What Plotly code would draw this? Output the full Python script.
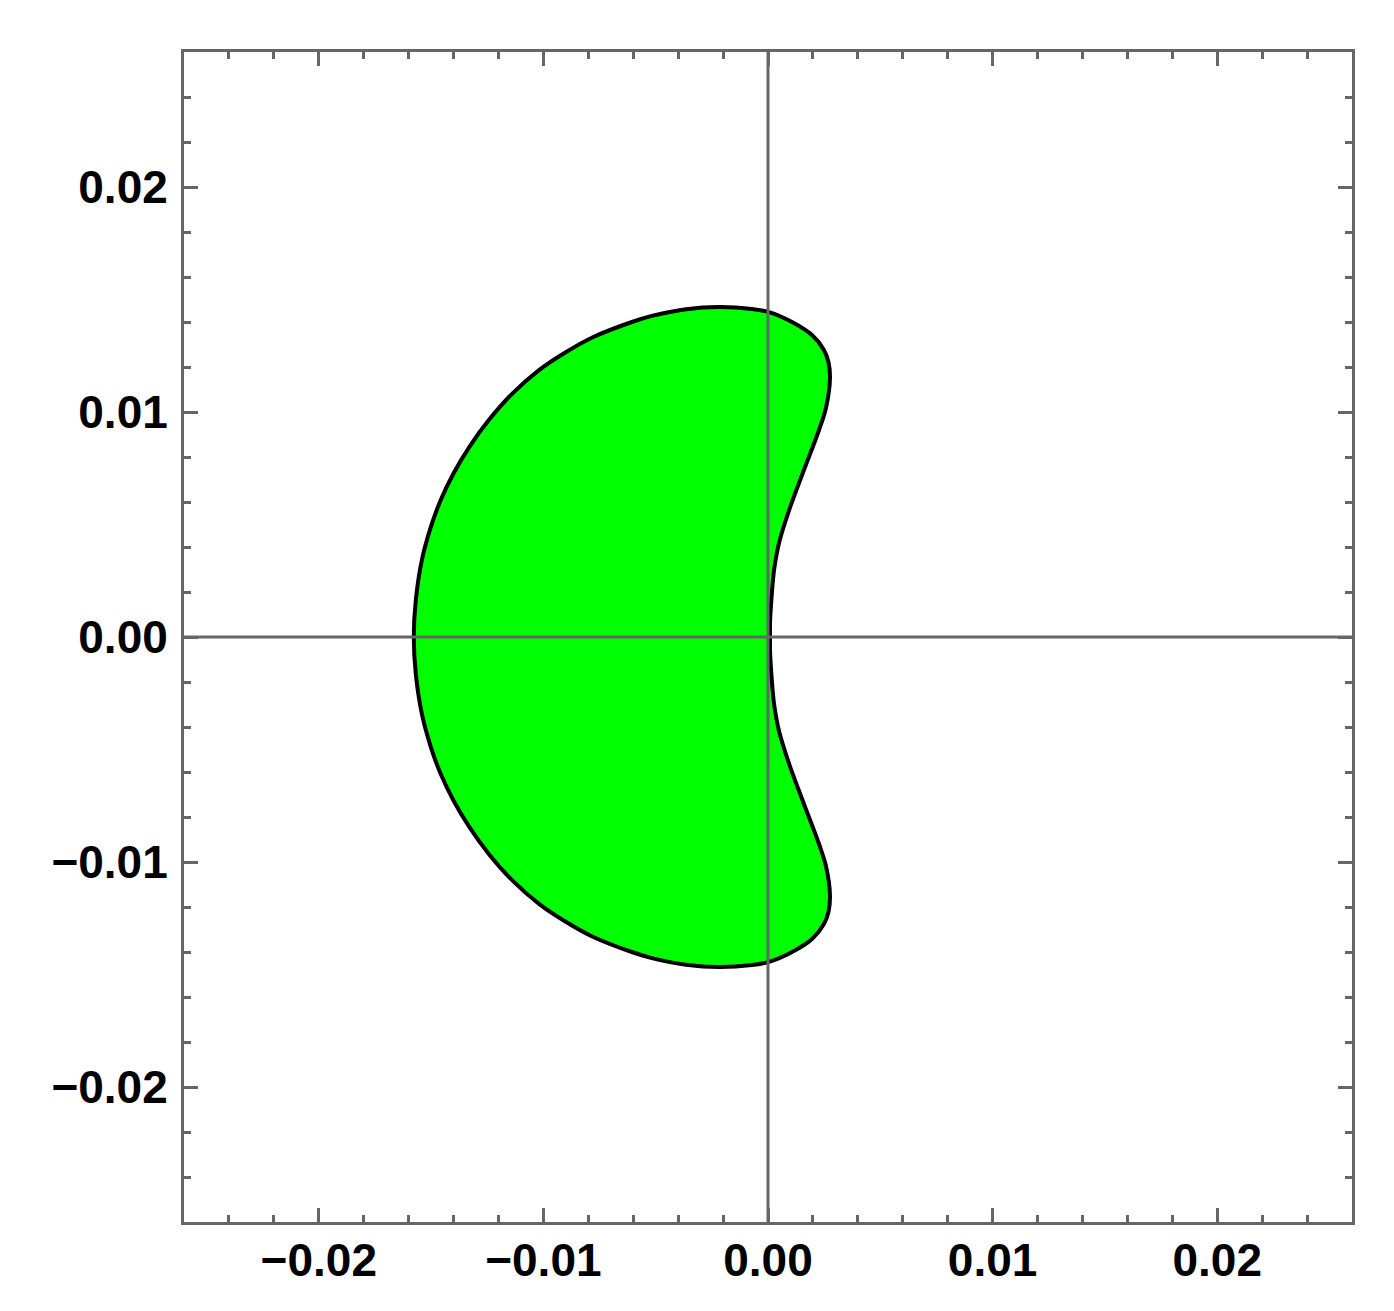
import plotly.graph_objects as go

# boundary of the region (closed curve, clockwise from the left tip)
boundary_x = [
    -0.01577, -0.01568, -0.01541, -0.01501, -0.01457, -0.01399, -0.01330, -0.01243,
    -0.01136, -0.01018, -0.00906, -0.00780, -0.00606, -0.00517, -0.00365, -0.00218,
    -0.00071, 0.00004, 0.00107, 0.00196, 0.00249, 0.00269, 0.00276, 0.00258, 0.00227,
    0.00160, 0.00094, 0.00049, 0.00027, 0.00016, 0.00009, 0.00009,
    0.00009, 0.00016, 0.00027, 0.00049, 0.00094, 0.00160, 0.00227, 0.00258,
    0.00276, 0.00269, 0.00249, 0.00196, 0.00107, 0.00004, -0.00071, -0.00218, -0.00365,
    -0.00517, -0.00606, -0.00780, -0.00906, -0.01018, -0.01136, -0.01243, -0.01330,
    -0.01399, -0.01457, -0.01501, -0.01541, -0.01568, -0.01577,
]
boundary_y = [
    0.00000, 0.00164, 0.00342, 0.00489, 0.00609, 0.00729, 0.00844, 0.00964,
    0.01084, 0.01187, 0.01262, 0.01332, 0.01400, 0.01427, 0.01457, 0.01467,
    0.01458, 0.01444, 0.01400, 0.01342, 0.01276, 0.01222, 0.01151, 0.01018, 0.00920,
    0.00742, 0.00564, 0.00418, 0.00298, 0.00178, 0.00062, 0.00000,
    -0.00062, -0.00178, -0.00298, -0.00418, -0.00564, -0.00742, -0.00920, -0.01018,
    -0.01151, -0.01222, -0.01276, -0.01342, -0.01400, -0.01444, -0.01458, -0.01467, -0.01457,
    -0.01427, -0.01400, -0.01332, -0.01262, -0.01187, -0.01084, -0.00964, -0.00844,
    -0.00729, -0.00609, -0.00489, -0.00342, -0.00164, 0.00000,
]

axis_range = [-0.026, 0.026]
major_step = 0.01
minor_step = 0.002

GRAY = "#666666"

fig = go.Figure()
fig.add_trace(go.Scatter(
    x=boundary_x, y=boundary_y,
    mode="lines", fill="toself",
    fillcolor="#00ff00",
    line=dict(color="black", width=4, shape="spline", smoothing=1),
    hoverinfo="skip", showlegend=False,
))

# axes through the origin, drawn over the filled region
fig.add_shape(type="line", xref="x", yref="paper", x0=0, x1=0, y0=0, y1=1,
              line=dict(color=GRAY, width=3), layer="above")
fig.add_shape(type="line", xref="paper", yref="y", x0=0, x1=1, y0=0, y1=0,
              line=dict(color=GRAY, width=3), layer="above")

axis_style = dict(
    range=axis_range,
    tick0=0, dtick=major_step, tickformat=".2f",
    ticks="inside", ticklen=14, tickwidth=3, tickcolor=GRAY,
    minor=dict(dtick=minor_step, tick0=0, ticks="inside", ticklen=7,
               tickwidth=3, tickcolor=GRAY, showgrid=False),
    showline=True, linecolor=GRAY, linewidth=3, mirror="ticks",
    showgrid=False, zeroline=False,
    tickfont=dict(family="Liberation Sans", size=46, color="black", weight="bold"),
)

# page body adds ~8px, so margins are trimmed to land the frame where the original has it
fig.update_layout(
    width=1394, height=1311,
    margin=dict(l=176, r=50, t=44, b=97),
    plot_bgcolor="white", paper_bgcolor="white",
    xaxis=dict(**axis_style, ticklabelstandoff=-4),
    yaxis=dict(**axis_style, ticklabelstandoff=4),
)

fig.write_html("out.html")
